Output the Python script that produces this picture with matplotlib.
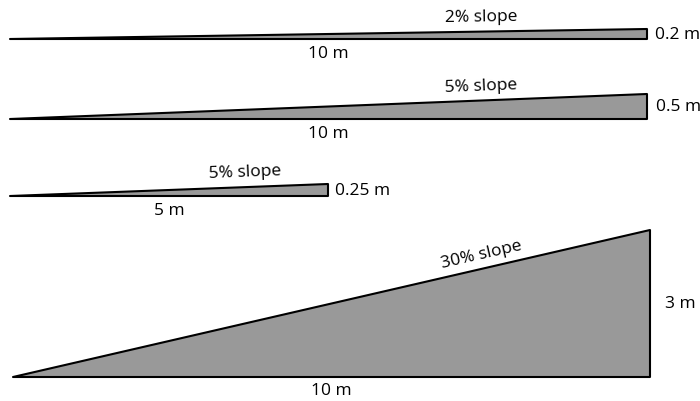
import math
import matplotlib
matplotlib.use("Agg")
import matplotlib.pyplot as plt
from matplotlib.patches import Polygon

plt.rcParams['font.family'] = ['Open Sans', 'DejaVu Sans']

# ---- data ----
lengths_m = [10, 10, 5, 10]
heights_m = [0.2, 0.5, 0.25, 3]
slope_labels = ["2% slope", "5% slope", "5% slope", "30% slope"]
length_labels = ["10 m", "10 m", "5 m", "10 m"]
height_labels = ["0.2 m", "0.5 m", "0.25 m", "3 m"]

# ---- layout (pixel-based scales) ----
W, H = 700, 402
PX_PER_M_X = 63.7
PX_PER_M_Y = 48.7
left_px = [10, 10, 10, 13]
base_px = [39.5, 119.5, 197, 377.5]     # baseline pixel rows from top
height_gap_px = [8, 9, 7, 15]

fig = plt.figure(figsize=(W / 100, H / 100), dpi=100)
ax = fig.add_axes([0, 0, 1, 1])
ax.set_xlim(0, W / PX_PER_M_X)
ax.set_ylim(0, H / PX_PER_M_Y)
ax.axis('off')

fs = 12.5
for i in range(4):
    x0 = left_px[i] / PX_PER_M_X
    y0 = (H - base_px[i]) / PX_PER_M_Y
    L = lengths_m[i]
    h = heights_m[i]
    poly = Polygon([(x0, y0), (x0 + L, y0), (x0 + L, y0 + h)], closed=True,
                   facecolor='#999999', edgecolor='black', linewidth=1.5,
                   joinstyle='round')
    ax.add_patch(poly)

    # length label below
    ax.annotate(length_labels[i], xy=(x0 + L / 2, y0), xytext=(0, -6),
                textcoords='offset pixels', ha='center', va='top', fontsize=fs)
    # height label to the right
    ax.annotate(height_labels[i], xy=(x0 + L, y0 + h / 2),
                xytext=(height_gap_px[i], 0), textcoords='offset pixels',
                ha='left', va='center', fontsize=fs)

    # slope label along hypotenuse
    p0 = ax.transData.transform((x0, y0))
    p1 = ax.transData.transform((x0 + L, y0 + h))
    dx, dy = p1[0] - p0[0], p1[1] - p0[1]
    ang = math.degrees(math.atan2(dy, dx))
    frac = 0.74
    nx, ny = -math.sin(math.radians(ang)), math.cos(math.radians(ang))
    off = 15
    ax.annotate(slope_labels[i], xy=(x0 + L * frac, y0 + h * frac),
                xytext=(nx * off, ny * off), textcoords='offset pixels',
                ha='center', va='center', rotation=ang,
                rotation_mode='anchor', fontsize=fs)

fig.savefig("out.png", dpi=100)
